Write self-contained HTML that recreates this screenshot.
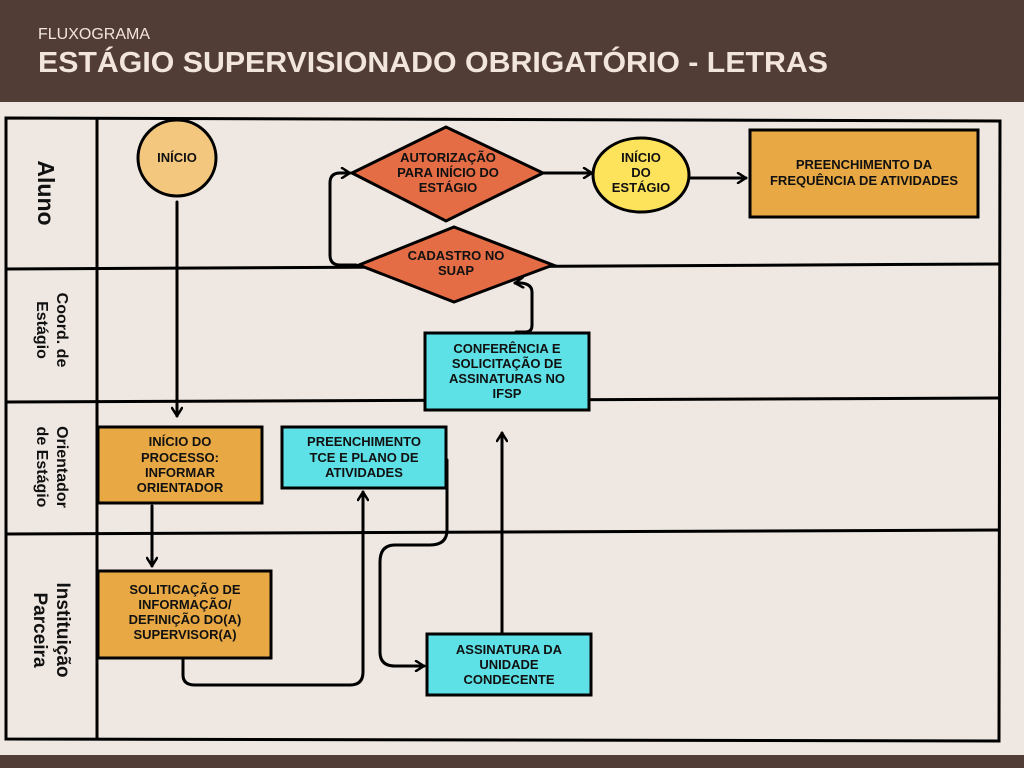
<!DOCTYPE html>
<html><head><meta charset="utf-8"><style>
html,body{margin:0;padding:0;width:1024px;height:768px;overflow:hidden;background:#efe8e2}
svg{display:block}
</style></head><body>
<svg width="1024" height="768" viewBox="0 0 1024 768" xmlns="http://www.w3.org/2000/svg" font-family="'Liberation Sans', 'DejaVu Sans', sans-serif">
<defs>
<marker id="a" viewBox="0 0 12 12" refX="10" refY="6" markerWidth="12" markerHeight="12" markerUnits="userSpaceOnUse" orient="auto">
<path d="M2,1 L10,6 L2,11" fill="none" stroke="#000" stroke-width="2.5" stroke-linecap="round" stroke-linejoin="round"/>
</marker>
</defs>
<rect x="0" y="0" width="1024" height="102" fill="#523d36"/>
<text x="38" y="39" font-size="16" fill="#f2e6dc" font-family="'Liberation Sans',sans-serif">FLUXOGRAMA</text>
<text x="38" y="72" font-size="29" font-weight="bold" fill="#f2e6dc" font-family="'Liberation Sans',sans-serif" textLength="790" lengthAdjust="spacingAndGlyphs">ESTÁGIO SUPERVISIONADO OBRIGATÓRIO - LETRAS</text>
<rect x="0" y="755" width="1024" height="13" fill="#523d36"/>

<g stroke="#000" stroke-width="3" fill="none">
<path d="M6,118 L1000,121 L999,741 L6,739 Z"/>
<line x1="97" y1="118" x2="97" y2="740"/>
<line x1="6" y1="269" x2="1000" y2="264"/>
<line x1="6" y1="402" x2="1000" y2="398"/>
<line x1="6" y1="534" x2="1000" y2="530"/>
</g>

<g font-family="'Liberation Sans',sans-serif" fill="#111">
<text transform="translate(38,193) rotate(90)" text-anchor="middle" font-size="23" font-weight="bold">Aluno</text>
<text transform="translate(57,330) rotate(90)" text-anchor="middle" font-size="16" font-weight="bold">Coord. de</text>
<text transform="translate(37,330) rotate(90)" text-anchor="middle" font-size="16" font-weight="bold">Estágio</text>
<text transform="translate(57,467) rotate(90)" text-anchor="middle" font-size="16" font-weight="bold">Orientador</text>
<text transform="translate(37,467) rotate(90)" text-anchor="middle" font-size="16" font-weight="bold">de Estágio</text>
<text transform="translate(57,630) rotate(90)" text-anchor="middle" font-size="19" font-weight="bold">Instituição</text>
<text transform="translate(34,630) rotate(90)" text-anchor="middle" font-size="19" font-weight="bold">Parceira</text>
</g>

<g stroke="#000" stroke-width="3" fill="none" stroke-linecap="round">
<path d="M177,202 L177,416" marker-end="url(#a)"/>
<path d="M152,506 L152,566" marker-end="url(#a)"/>
<path d="M183,660 L183,675 Q183,685 195,685 L350,685 Q363,685 363,672 L363,492" marker-end="url(#a)"/>
<path d="M447,460 L447,530 Q447,545 430,545 L395,545 Q380,545 380,562 L380,652 Q380,666 395,666 L424,666" marker-end="url(#a)"/>
<path d="M502,633 L502,433" marker-end="url(#a)"/>
<path d="M516,332 L526,332 Q532,332 532,325 L532,292 Q532,282 515,283" marker-end="url(#a)"/>
<path d="M356,265 L340,265 Q330,265 330,255 L330,183 Q330,173 340,173 L350,173" marker-end="url(#a)"/>
<path d="M543,173 L592,173" marker-end="url(#a)"/>
<path d="M690,178 L746,178" marker-end="url(#a)"/>
</g>

<g stroke="#000" stroke-width="3">
<ellipse cx="177" cy="158" rx="39" ry="38" fill="#f4c77e"/>
<polygon points="352,173 446,127 543,173 446,221" fill="#e46d45"/>
<polygon points="359,265 454,227 553,265 454,302" fill="#e46d45"/>
<ellipse cx="641" cy="175" rx="48" ry="37" fill="#fde35c"/>
<rect x="750" y="130" width="228" height="87" fill="#e8a945"/>
<rect x="425" y="333" width="164" height="77" fill="#5de0e6"/>
<rect x="98" y="427" width="164" height="76" fill="#e8a945"/>
<rect x="282" y="427" width="164" height="61" fill="#5de0e6"/>
<rect x="98" y="571" width="173" height="87" fill="#e8a945"/>
<rect x="427" y="634" width="164" height="61" fill="#5de0e6"/>
</g>

<g font-family="'Liberation Sans',sans-serif" font-weight="bold" font-size="13" fill="#111" text-anchor="middle">
<text x="177" y="162">INÍCIO</text>
<text x="448" y="162">AUTORIZAÇÃO</text>
<text x="448" y="177">PARA INÍCIO DO</text>
<text x="448" y="192">ESTÁGIO</text>
<text x="456" y="260">CADASTRO NO</text>
<text x="456" y="275">SUAP</text>
<text x="641" y="162">INÍCIO</text>
<text x="641" y="177">DO</text>
<text x="641" y="192">ESTÁGIO</text>
<text x="864" y="169">PREENCHIMENTO DA</text>
<text x="864" y="185">FREQUÊNCIA DE ATIVIDADES</text>
<text x="507" y="353">CONFERÊNCIA E</text>
<text x="507" y="368">SOLICITAÇÃO DE</text>
<text x="507" y="383">ASSINATURAS NO</text>
<text x="507" y="398">IFSP</text>
<text x="180" y="446">INÍCIO DO</text>
<text x="180" y="462">PROCESSO:</text>
<text x="180" y="477">INFORMAR</text>
<text x="180" y="492">ORIENTADOR</text>
<text x="364" y="446">PREENCHIMENTO</text>
<text x="364" y="462">TCE E PLANO DE</text>
<text x="364" y="477">ATIVIDADES</text>
<text x="185" y="594">SOLITICAÇÃO DE</text>
<text x="185" y="609">INFORMAÇÃO/</text>
<text x="185" y="624">DEFINIÇÃO DO(A)</text>
<text x="185" y="639">SUPERVISOR(A)</text>
<text x="509" y="654">ASSINATURA DA</text>
<text x="509" y="669">UNIDADE</text>
<text x="509" y="684">CONDECENTE</text>
</g>
</svg>
</body></html>
